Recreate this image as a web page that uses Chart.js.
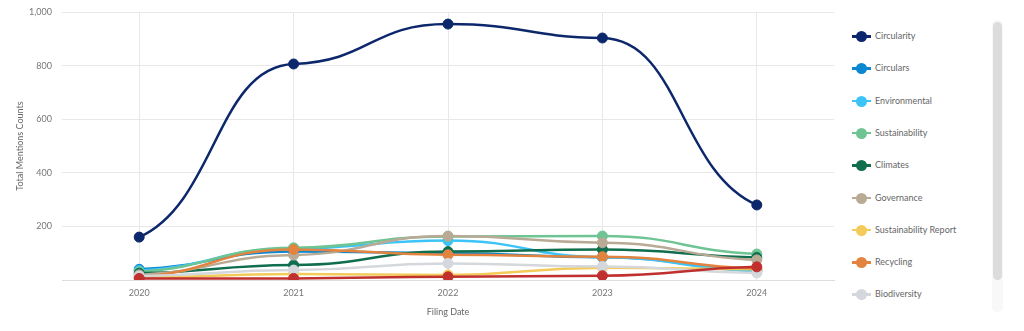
<!DOCTYPE html>
<html>
<head>
<meta charset="utf-8">
<script src="https://cdn.jsdelivr.net/npm/chart.js@4.4.1/dist/chart.umd.min.js"></script>
<style>
    html, body { margin: 0; padding: 0; background: #fff; }
    body { width: 1024px; height: 331px; position: relative; overflow: hidden; font-family: Lato, 'Noto Sans', sans-serif; }
    #chartBox { position: absolute; left: 0; top: 0; width: 840px; height: 331px; }
    #legend { position: absolute; left: 846px; top: 18px; width: 140px; height: 292px; overflow: hidden; }
    .item { position: absolute; left: 0; height: 14px; width: 140px; font-size: 9px; color: #666; }
    .item .ln { position: absolute; left: 6px; top: 6px; width: 19px; height: 2.5px; }
    .item .dot { position: absolute; left: 10px; top: 2px; width: 11px; height: 11px; border-radius: 50%; }
    .item .tx { position: absolute; left: 29px; top: 0; line-height: 14px; white-space: nowrap; }
    #track { position: absolute; left: 992px; top: 20px; width: 11px; height: 292px; background: #f8f8f8; border-radius: 5px; }
    #thumb { position: absolute; left: 993px; top: 22px; width: 9px; height: 258px; background: #dcdcdc; border-radius: 5px; }
</style>
</head>
<body>
<div id="chartBox"><canvas id="mentionsChart"></canvas></div>
<div id="legend"></div>
<div id="track"></div>
<div id="thumb"></div>
<script>
const years = ['2020', '2021', '2022', '2023', '2024'];
const yTicks = [0, 200, 400, 600, 800, 1000];

const seriesNames = ['Circularity', 'Circulars', 'Environmental', 'Sustainability', 'Climates',
    'Governance', 'Sustainability Report', 'Recycling', 'Biodiversity', 'Carbon'];
const seriesColors = ['#0c276b', '#0b86d1', '#3cc3f7', '#6fc494', '#0f6e4e',
    '#b9aa96', '#f3cb5a', '#e2843f', '#d4d7db', '#c0302f'];

const circularity = [160, 806, 955, 903, 280];
const circulars = [40, 106, 100, 85, 35];
const environmental = [35, 118, 147, 85, 33];
const sustainability = [31, 120, 162, 164, 97];
const climates = [25, 56, 106, 114, 84];
const governance = [19, 93, 164, 139, 75];
const sustainabilityReport = [8, 22, 19, 46, 40];
const recycling = [12, 114, 94, 87, 43];
const biodiversity = [15, 37, 62, 50, 26];
const carbon = [6, 6, 12, 16, 49];

const seriesValues = [circularity, circulars, environmental, sustainability, climates,
    governance, sustainabilityReport, recycling, biodiversity, carbon];

// smooth curve with flattish tangents at the points
const flatSpline = {
    id: 'flatSpline',
    beforeDatasetDraw(chart, args) {
        const meta = args.meta;
        const line = meta.dataset;
        if (!line) return;
        line.updateControlPoints(chart.chartArea, meta.indexAxis);
        const pts = meta.data;
        const n = pts.length;
        const slopes = pts.map((p, i) => {
            if (n < 2) return 0;
            if (i === 0) return 0.4 * (pts[1].y - p.y) / (pts[1].x - p.x);
            if (i === n - 1) return 0.4 * (p.y - pts[i - 1].y) / (p.x - pts[i - 1].x);
            const s0 = (p.y - pts[i - 1].y) / (p.x - pts[i - 1].x);
            const s1 = (pts[i + 1].y - p.y) / (pts[i + 1].x - p.x);
            if (s0 * s1 <= 0) return 0;
            return 0.15 * Math.sign(s0) * Math.min(Math.abs(s0), Math.abs(s1));
        });
        pts.forEach((p, i) => {
            const dl = i > 0 ? (p.x - pts[i - 1].x) * 0.5 : 0;
            const dr = i < n - 1 ? (pts[i + 1].x - p.x) * 0.5 : 0;
            p.cp1x = p.x - dl;
            p.cp1y = p.y - slopes[i] * dl;
            p.cp2x = p.x + dr;
            p.cp2y = p.y + slopes[i] * dr;
        });
        line._path = undefined;
    }
};

const datasets = seriesNames.map((name, i) => ({
    label: name,
    data: seriesValues[i],
    borderColor: seriesColors[i],
    backgroundColor: seriesColors[i],
    pointBackgroundColor: seriesColors[i],
    pointBorderColor: seriesColors[i],
    borderWidth: 2.5,
    pointRadius: 5,
    pointBorderWidth: 1,
    tension: 0.4,
    fill: false,
    order: -i,
}));

const ctx = document.getElementById('mentionsChart').getContext('2d');
new Chart(ctx, {
    type: 'line',
    data: { labels: years, datasets: datasets },
    plugins: [flatSpline],
    options: {
        responsive: true,
        maintainAspectRatio: false,
        animation: false,
        layout: { padding: { top: 0, right: 5, left: 0, bottom: 10 } },
        plugins: {
            legend: { display: false },
            tooltip: { enabled: false },
        },
        scales: {
            x: {
                offset: true,
                grid: { color: '#e8e8e8', drawTicks: false, offset: false },
                border: { color: '#dddddd' },
                ticks: { color: '#777', font: { family: 'Lato', size: 9 }, padding: 8 },
                title: { display: true, text: 'Filing Date', color: '#666', font: { family: 'Lato', size: 9 }, padding: { top: 8 } },
                afterFit: (scale) => { scale.height = 41; },
            },
            y: {
                min: yTicks[0],
                max: yTicks[yTicks.length - 1],
                afterBuildTicks: (scale) => { scale.ticks = yTicks.map(v => ({ value: v })); },
                grid: { color: '#e8e8e8', drawTicks: false },
                border: { display: false },
                ticks: {
                    color: '#777',
                    font: { family: 'Lato', size: 9 },
                    padding: 10,
                    callback: (v) => v === 0 ? '' : v.toLocaleString('en-US'),
                },
                title: { display: true, text: 'Total Mentions Counts', color: '#666', font: { family: 'Lato', size: 9 }, padding: { top: 15 } },
                afterFit: (scale) => {
                    scale.width = 62;
                    scale.paddingTop = 12;
                    scale.paddingBottom = 0;
                },
            },
        },
    },
});

const legendBox = document.getElementById('legend');
seriesNames.forEach((name, i) => {
    const item = document.createElement('div');
    item.className = 'item';
    item.style.top = (11 + i * 32.3) + 'px';
    const ln = document.createElement('span');
    ln.className = 'ln';
    ln.style.background = seriesColors[i];
    const dot = document.createElement('span');
    dot.className = 'dot';
    dot.style.background = seriesColors[i];
    const tx = document.createElement('span');
    tx.className = 'tx';
    tx.textContent = name;
    item.append(ln, dot, tx);
    legendBox.appendChild(item);
});
</script>
</body>
</html>
